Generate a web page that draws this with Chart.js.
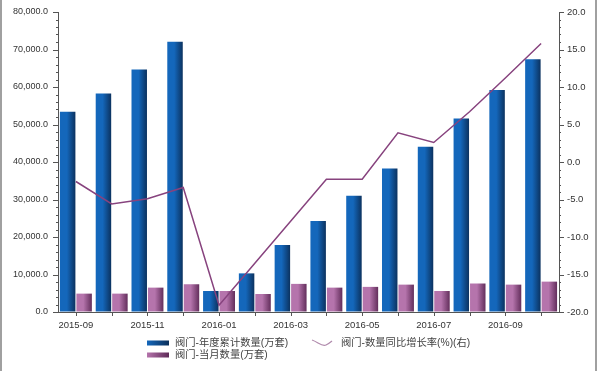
<!DOCTYPE html>
<html>
<head>
<meta charset="utf-8">
<script src="https://cdn.jsdelivr.net/npm/chart.js@4/dist/chart.umd.min.js"></script>
<style>
  html, body { margin: 0; padding: 0; background: #fff; }
  #wrap { position: relative; width: 600px; height: 371px; }
</style>
</head>
<body>
<div id="wrap"><canvas id="c" width="600" height="371"></canvas></div>
<script>
const categories = ['2015-09','2015-10','2015-11','2015-12','2016-01','2016-02','2016-03','2016-04','2016-05','2016-06','2016-07','2016-08','2016-09','2016-10'];
const cumulative = [53400, 58300, 64700, 72100, 5600, 10300, 17900, 24300, 31000, 38300, 44100, 51600, 59200, 67400];
const monthly = [4900, 4900, 6500, 7400, 5600, 4800, 7500, 6500, 6700, 7300, 5600, 7600, 7300, 8100];
const growth = [-2.6, -5.6, -4.9, -3.4, -19.1, -13.5, -7.9, -2.3, -2.3, 3.9, 2.6, 6.7, 11.2, 15.8];
const seriesNames = ['阀门-年度累计数量(万套)', '阀门-当月数量(万套)', '阀门-数量同比增长率(%)(右)'];
const leftTicks = { min: 0, max: 80000, major: 10000, minor: 2000 };
const rightTicks = { min: -20, max: 20, major: 5, minor: 1 };

const FONT = '"Liberation Sans", "Noto Sans CJK SC", sans-serif';
const BLUE = ['#1467bb', '#0b2f5a'];
const PURPLE = ['#b574ac', '#5e2a57'];
const LINE = '#87437e';
const AXIS = '#555';

function barGradient(ctx, colors, side) {
  const chart = ctx.chart;
  const xs = chart.scales.x;
  if (!xs || !chart.chartArea) return colors[0];
  const center = xs.getPixelForValue(ctx.dataIndex);
  const half = (xs.width / categories.length) * 0.92 / 2;
  const x0 = side < 0 ? center - half : center;
  const x1 = side < 0 ? center : center + half;
  const g = chart.ctx.createLinearGradient(x0, 0, x1, 0);
  g.addColorStop(0, colors[0]);
  g.addColorStop(0.45, colors[0]);
  g.addColorStop(1, colors[1]);
  return g;
}

const fmtLeft = v => v.toLocaleString('en-US', { minimumFractionDigits: 1, maximumFractionDigits: 1 });
const fmtRight = v => v.toFixed(1);

const decor = {
  id: 'decor',
  afterDraw(chart) {
    const c = chart.ctx;
    const area = chart.chartArea;
    const yl = chart.scales.y, yr = chart.scales.y1, xs = chart.scales.x;
    c.save();
    c.strokeStyle = AXIS;
    c.lineWidth = 1;
    for (let v = leftTicks.min; v <= leftTicks.max; v += leftTicks.minor) {
      const y = Math.round(yl.getPixelForValue(v)) + 0.5;
      const len = (v % leftTicks.major === 0) ? 5 : 2;
      c.beginPath(); c.moveTo(area.left - len, y); c.lineTo(area.left, y); c.stroke();
    }
    for (let v = rightTicks.min; v <= rightTicks.max; v += rightTicks.minor) {
      const y = Math.round(yr.getPixelForValue(v)) + 0.5;
      const len = (v % rightTicks.major === 0) ? 5 : 2;
      c.beginPath(); c.moveTo(area.right, y); c.lineTo(area.right + len, y); c.stroke();
    }
    for (let i = 0; i < categories.length; i++) {
      const x = Math.round(xs.getPixelForValue(i)) + 0.5;
      c.beginPath(); c.moveTo(x, area.bottom); c.lineTo(x, area.bottom + 4); c.stroke();
    }
    c.strokeStyle = '#a0a0a0';
    c.lineWidth = 2;
    c.beginPath(); c.moveTo(1, 0); c.lineTo(1, 371); c.stroke();
    c.beginPath(); c.moveTo(596, 0); c.lineTo(596, 371); c.stroke();

    c.font = '10.3px ' + FONT;
    c.textBaseline = 'middle';
    let g = c.createLinearGradient(147, 0, 169, 0);
    g.addColorStop(0, BLUE[0]); g.addColorStop(1, BLUE[1]);
    c.fillStyle = g; c.fillRect(147, 340.5, 22, 5);
    g = c.createLinearGradient(147, 0, 169, 0);
    g.addColorStop(0, PURPLE[0]); g.addColorStop(1, PURPLE[1]);
    c.fillStyle = g; c.fillRect(147, 352.5, 22, 5);
    c.fillStyle = '#444';
    c.fillText(seriesNames[0], 175, 343);
    c.fillText(seriesNames[1], 175, 355);
    c.strokeStyle = '#b08aac';
    c.lineWidth = 1.2;
    c.beginPath();
    c.moveTo(312, 340);
    c.bezierCurveTo(318, 342, 322, 347, 326, 345);
    c.quadraticCurveTo(329, 343.5, 332, 341);
    c.stroke();
    c.fillText(seriesNames[2], 341, 343);
    c.restore();
  }
};

const hiddenGrid = len => ({ display: true, drawOnChartArea: false, drawTicks: true, tickLength: len, tickColor: 'rgba(0,0,0,0)', color: 'rgba(0,0,0,0)' });

new Chart(document.getElementById('c'), {
  type: 'bar',
  data: {
    labels: categories,
    datasets: [
      {
        type: 'line', label: seriesNames[2], data: growth, yAxisID: 'y1',
        borderColor: LINE, borderWidth: 1.5, pointRadius: 0, tension: 0, order: 0, fill: false
      },
      {
        label: seriesNames[0], data: cumulative, yAxisID: 'y', order: 1,
        backgroundColor: ctx => barGradient(ctx, BLUE, -1),
        categoryPercentage: 0.92, barPercentage: 0.94
      },
      {
        label: seriesNames[1], data: monthly, yAxisID: 'y', order: 1,
        backgroundColor: ctx => barGradient(ctx, PURPLE, 1),
        categoryPercentage: 0.92, barPercentage: 0.94
      }
    ]
  },
  options: {
    responsive: false,
    animation: false,
    devicePixelRatio: 1,
    layout: { padding: { top: 12, left: 0, right: 0, bottom: 0 } },
    plugins: { legend: { display: false }, tooltip: { enabled: false } },
    scales: {
      x: {
        grid: hiddenGrid(5),
        border: { display: true, color: AXIS },
        ticks: {
          autoSkip: false, maxRotation: 0, padding: 3,
          color: '#333', font: { size: 9.5, family: FONT },
          callback: (v, i) => (i % 2 === 0 ? categories[i] : '')
        },
        afterFit: s => { s.height = 59; }
      },
      y: {
        position: 'left', min: leftTicks.min, max: leftTicks.max,
        grid: hiddenGrid(10),
        border: { display: true, color: AXIS },
        ticks: { stepSize: leftTicks.major, padding: 0, color: '#333', font: { size: 9, family: FONT }, callback: v => fmtLeft(v) },
        afterFit: s => { s.width = 58; }
      },
      y1: {
        position: 'right', min: rightTicks.min, max: rightTicks.max,
        grid: hiddenGrid(8),
        border: { display: true, color: AXIS },
        ticks: { stepSize: rightTicks.major, padding: 0, color: '#333', font: { size: 9.5, family: FONT }, callback: v => fmtRight(v) },
        afterFit: s => { s.width = 41; }
      }
    }
  },
  plugins: [decor]
});
</script>
</body>
</html>
